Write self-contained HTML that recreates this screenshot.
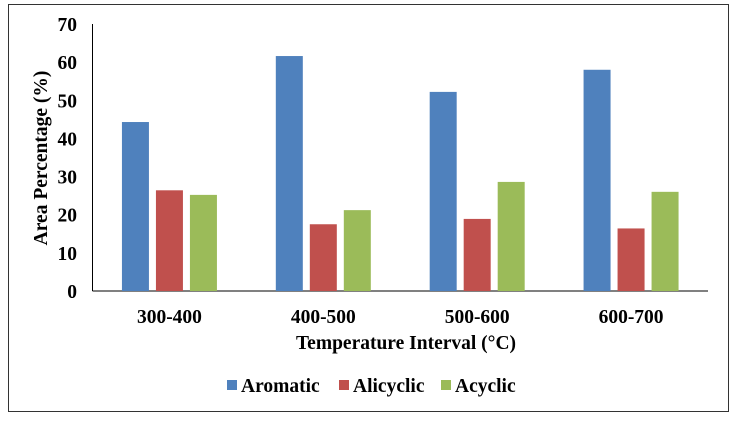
<!DOCTYPE html>
<html><head><meta charset="utf-8"><style>
body{margin:0;background:#fff;width:737px;height:421px;overflow:hidden}
svg{font-family:"Liberation Serif",serif;font-weight:bold}
</style></head><body>
<svg id="c" width="737" height="421">
<rect x="8.5" y="4.5" width="720" height="407" fill="none" stroke="#333" stroke-width="1"/>
</svg>
<script>
const categories=["300-400","400-500","500-600","600-700"];
const aromatic=[44.3,61.6,52.2,58];
const alicyclic=[26.4,17.5,18.9,16.4];
const acyclic=[25.2,21.2,28.6,26];
const yTicks=[0,10,20,30,40,50,60,70];
const seriesNames=["Aromatic","Alicyclic","Acyclic"];
const NS="http://www.w3.org/2000/svg",svg=document.getElementById('c');
const x0=92.5,x1=708,y0=291,yTop=24;
const y=v=>y0-(v/70)*(y0-yTop);
const band=(x1-x0)/categories.length;
const colors=["#4f81bd","#c0504d","#9bbb59"];
function mk(t,a,txt){const e=document.createElementNS(NS,t);for(const k in a)e.setAttribute(k,a[k]);if(txt!=null)e.textContent=txt;svg.appendChild(e);return e;}
let e;
e=mk('line',{x1:x0,y1:yTop,x2:x0,y2:y0,stroke:'#000'});


e=mk('line',{x1:x0,y1:y0,x2:x1,y2:y0,stroke:'#000'});


yTicks.forEach(t=>{e=mk('text',{x:77,y:y(t)+7,'text-anchor':'end','font-size':19.5},t);

});
const series=[aromatic,alicyclic,acyclic];
const bw=27,gap=7;
categories.forEach((c,i)=>{const cx=x0+band*(i+0.5);
series.forEach((s,j)=>{const bx=cx-(3*bw+2*gap)/2+j*(bw+gap);
e=mk('rect',{x:bx,y:y(s[i]),width:bw,height:y0-y(s[i]),fill:colors[j]});

});
e=mk('text',{x:cx,y:323,'text-anchor':'middle','font-size':19.5},c);

});
e=mk('text',{x:0,y:0,'text-anchor':'middle','font-size':19.5,transform:'translate(47,158) rotate(-90)'},'Area Percentage (%)');


e=mk('text',{x:406,y:349,'text-anchor':'middle','font-size':19.5},'Temperature Interval (°C)');


const lx=[227,339,441];
seriesNames.forEach((n,j)=>{e=mk('rect',{x:lx[j],y:380,width:10,height:10,fill:colors[j]});


e=mk('text',{x:lx[j]+14,y:392,'font-size':19.5},n);

});
</script>
</body></html>
